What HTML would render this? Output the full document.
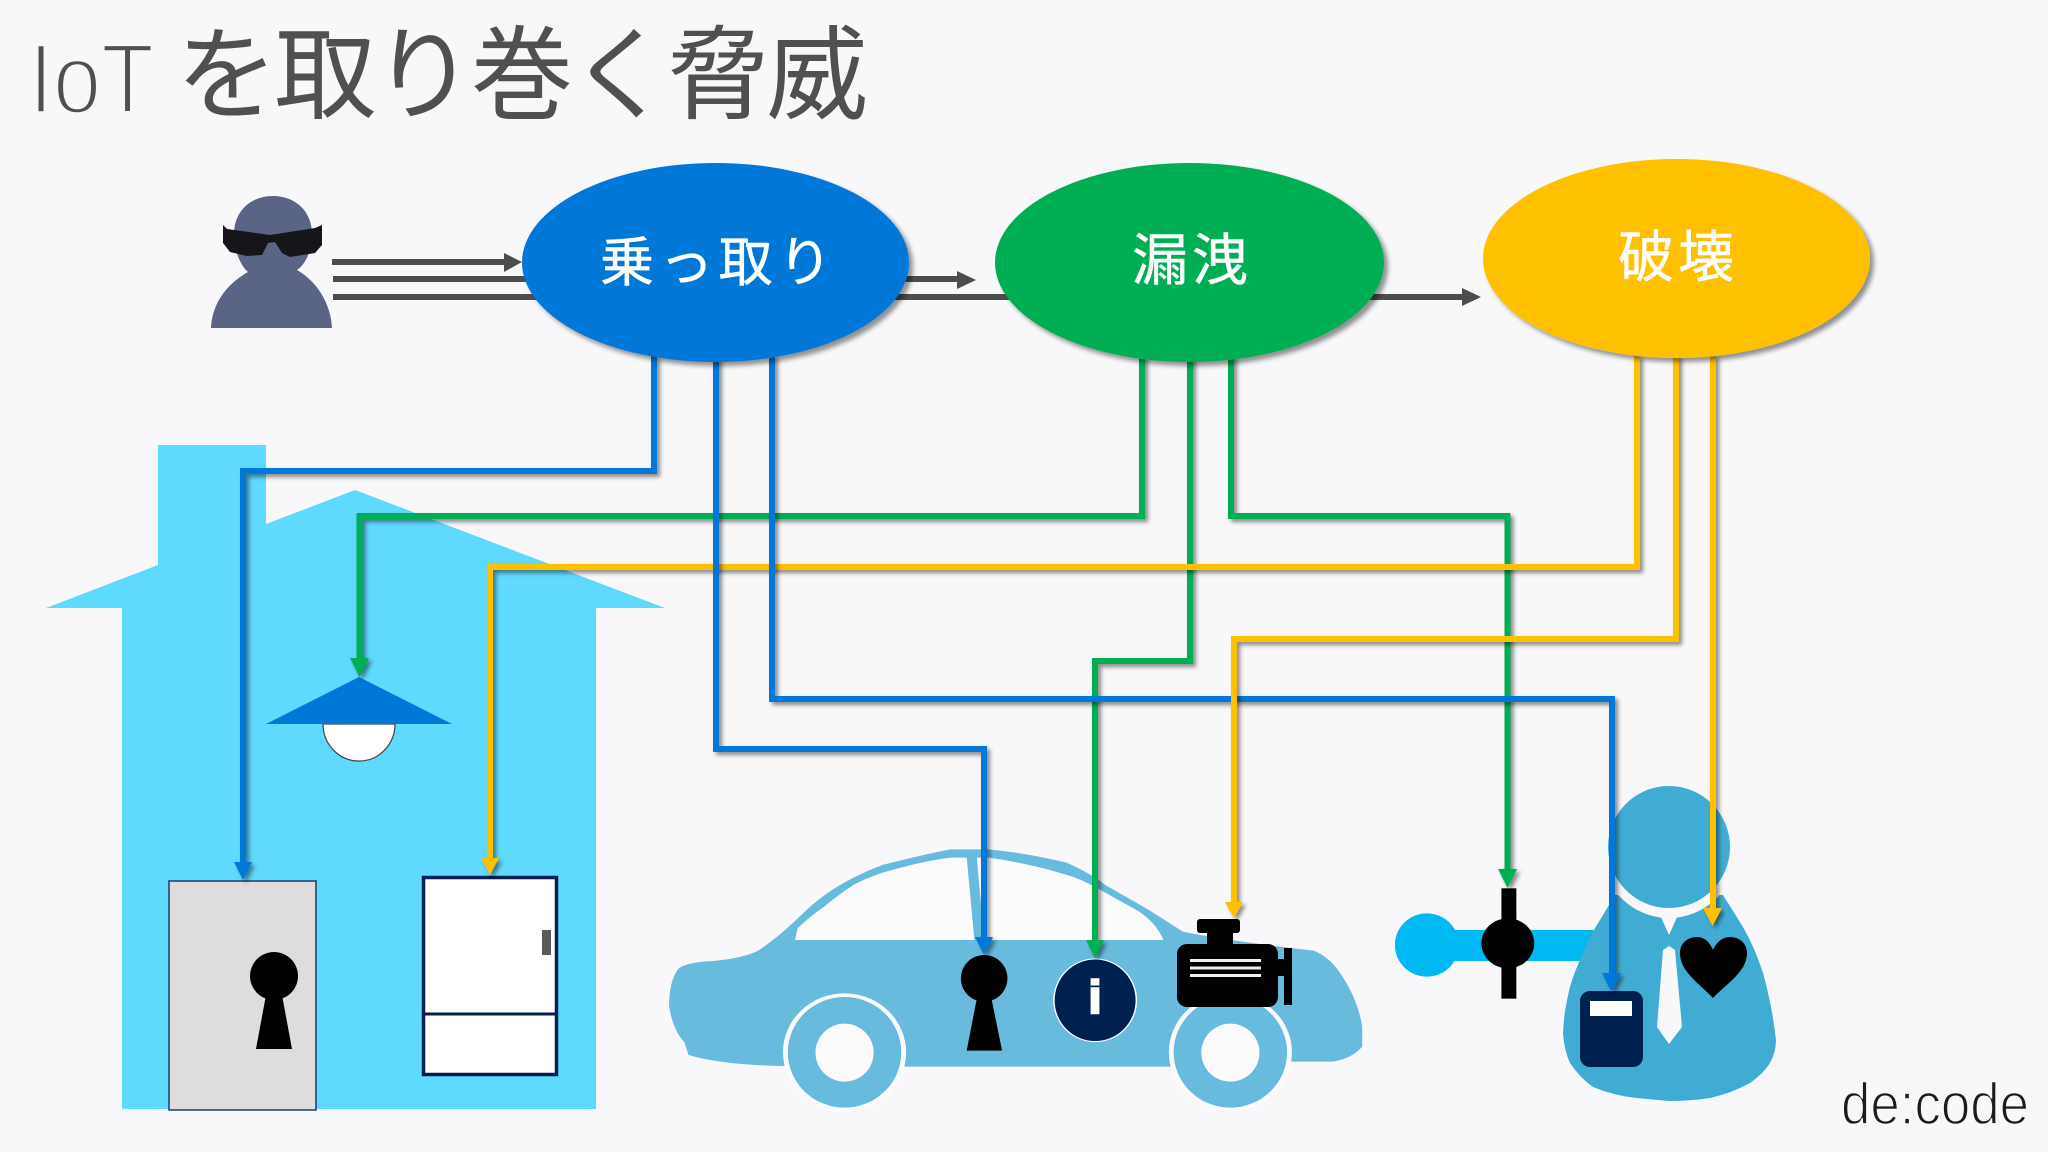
<!DOCTYPE html>
<html lang="ja">
<head>
<meta charset="utf-8">
<title>IoT を取り巻く脅威</title>
<style>
html,body{margin:0;padding:0;background:#f8f8fa;width:2048px;height:1152px;overflow:hidden}
svg{display:block}
text{font-family:"Liberation Sans","Noto Sans CJK JP",sans-serif}
.l{fill:none;stroke-width:6;stroke-linejoin:miter}
</style>
</head>
<body>
<svg width="2048" height="1152" viewBox="0 0 2048 1152" xmlns="http://www.w3.org/2000/svg">
<defs>
<filter id="s" x="-10%" y="-10%" width="125%" height="125%" filterUnits="objectBoundingBox" primitiveUnits="userSpaceOnUse">
<feDropShadow dx="3" dy="3" stdDeviation="2" flood-color="#000" flood-opacity=".45"/>
</filter>
<filter id="e" x="-5%" y="-5%" width="112%" height="115%">
<feDropShadow dx="4" dy="4" stdDeviation="2.5" flood-color="#000" flood-opacity=".42"/>
</filter>
</defs>
<rect width="2048" height="1152" fill="#f8f8fa"/>

<!-- title -->
<text x="29" y="113" font-size="99" fill="#505050" stroke="#f8f8fa" stroke-width="3.5" textLength="125" lengthAdjust="spacingAndGlyphs">IoT</text>
<text x="176" y="111" font-size="102" fill="#505050" textLength="692">を取り巻く脅威</text>

<!-- house -->
<polygon points="46,608 158,565 158,445 266,445 266,524 355,490 665,608 596,608 596,1109 122,1109 122,608" fill="#60d9ff"/>

<!-- lock box -->
<rect x="169" y="881" width="147" height="229" fill="#dedcdc" stroke="#1a3a66" stroke-width="1.5"/>
<circle cx="274" cy="976" r="24"/>
<polygon points="266,995 282,995 292,1049 256,1049"/>

<!-- fridge -->
<rect x="423.500" y="877.500" width="133" height="197" fill="#fff" stroke="#001f4f" stroke-width="3.500"/>
<line x1="423" y1="1014" x2="557" y2="1014" stroke="#001f4f" stroke-width="3"/>
<rect x="542" y="930" width="9" height="25" fill="#5a5a5a"/>

<!-- lamp -->
<path d="M323 724 A36 37 0 0 0 395 724 Z" fill="#fff" stroke="#444" stroke-width="1.200"/>
<polygon points="359,677 452,724 266,724" fill="#0078d7"/>

<!-- car -->
<g transform="translate(640 820) scale(.4847 .3333)">
<path fill="#69bbdd" d="M100 705 L92 668 Q68 630 60 560 Q60 480 80 445 Q95 430 130 425 Q200 420 240 395 Q280 360 340 275 Q400 190 500 135 Q580 105 640 88 L720 88 Q800 100 880 128 Q930 160 960 195 L1050 270 L1120 335 Q1200 360 1390 392 Q1420 410 1440 450 Q1480 530 1490 620 L1490 680 Q1470 715 1430 725 L1340 725 L1090 740 L545 740 L295 738 Q170 735 100 705 Z"/>
<path fill="#fbfbfc" d="M320 360 L325 325 Q350 290 380 260 Q400 235 440 195 Q480 165 520 150 Q590 122 640 113 L720 113 Q800 130 870 160 Q910 175 950 210 L1030 275 Q1065 310 1080 360 Z"/>
<polygon fill="#69bbdd" points="674,112 695,112 710,362 690,362"/>
<ellipse cx="422" cy="697" rx="127" ry="177" fill="#fbfbfc"/>
<ellipse cx="422" cy="697" rx="117" ry="166" fill="#69bbdd"/>
<ellipse cx="422" cy="698" rx="60" ry="87" fill="#fbfbfc"/>
<ellipse cx="1218" cy="697" rx="127" ry="177" fill="#fbfbfc"/>
<ellipse cx="1218" cy="697" rx="117" ry="166" fill="#69bbdd"/>
<ellipse cx="1218" cy="698" rx="60" ry="87" fill="#fbfbfc"/>
<ellipse cx="710" cy="475" rx="48" ry="70"/>
<polygon points="695,535 725,535 747,692 674,692"/>
<ellipse cx="939" cy="541" rx="85" ry="124" fill="#002050" stroke="#fff" stroke-width="3"/>
</g>
<text x="1095" y="1013" font-size="46" font-weight="bold" text-anchor="middle" fill="#fff" stroke="#fff" stroke-width="2.500">i</text>
<!-- engine -->
<rect x="1177" y="944" width="101" height="63" rx="10"/>
<rect x="1207" y="931" width="26" height="15"/>
<rect x="1197" y="919" width="43" height="14" rx="3"/>
<rect x="1276" y="959" width="10" height="17"/>
<rect x="1284" y="948" width="8" height="57"/>
<rect x="1190" y="959" width="71" height="3" fill="#eee"/>
<rect x="1190" y="966.500" width="71" height="3" fill="#eee"/>
<rect x="1190" y="974" width="71" height="3" fill="#eee"/>

<!-- valve -->
<g transform="translate(1380 760) scale(.4261 .3333)">
<ellipse cx="110" cy="555" rx="75" ry="95" fill="#00b9f2"/>
<rect x="110" y="510" width="420" height="93" fill="#00b9f2"/>
<ellipse cx="300" cy="550" rx="62" ry="75"/>
<rect x="285" y="385" width="35" height="331"/>
</g>

<!-- person -->
<path fill="#40acd4" d="M1615 895 L1600 920 Q1590 935 1583 953 Q1575 970 1570 987 Q1564 1010 1563 1033 Q1564 1050 1570 1063 Q1580 1078 1593 1087 Q1615 1096 1637 1098 L1669 1101 Q1690 1101 1710 1098 Q1732 1093 1750 1083 Q1763 1074 1770 1063 Q1776 1052 1776 1040 Q1772 1005 1763 973 Q1755 948 1743 927 L1723 895 Z"/>
<circle cx="1669" cy="851" r="67" fill="#f8f8fa"/>
<path fill="#f8f8fa" d="M1610 895 H1615 L1625 880 H1610 Z"/>
<circle cx="1669" cy="847" r="61" fill="#40acd4"/>
<polygon points="1660,915 1669,935 1678,915" fill="#f8f8fa"/>
<polygon points="1669,946 1675,950 1682,1027 1669,1044 1657,1027 1663,950" fill="#f8f8fa"/>
<rect x="1580" y="991" width="63" height="76" rx="10" fill="#002050"/>
<rect x="1590" y="1001" width="42" height="15" fill="#fff"/>
<path d="M1713 998 C1700 984 1680 972 1680 953 C1680 943 1688 937 1697 937 C1705 937 1710 943 1713 950 C1716 943 1722 937 1730 937 C1740 937 1747 944 1747 953 C1747 972 1726 984 1713 998 Z"/>

<!-- attacker -->
<path fill="#5a6484" d="M211 328 C212 305 225 285 248 272 C240 265 234 250 234 234 C234 212 250 196 273 196 C296 196 312 212 312 234 C312 250 306 264 297 270 C318 282 331 305 332 328 Z"/>
<path fill="#15151a" d="M223 225 L227 229 L270 235 L315 228 L322 225 L322 245 L315 253 L290 257 L282 253 L275 242 L268 243 L262 255 L247 256 L230 252 L223 243 Z"/>

<!-- gray arrows -->
<g fill="#4d4d4d">
<rect x="332" y="259" width="174" height="6"/><polygon points="504,253 522,262 504,272"/>
<rect x="333" y="276" width="626" height="6"/><polygon points="957,271 976,280 957,289"/>
<rect x="333" y="294" width="1131" height="6"/><polygon points="1462,288 1481,297 1462,306"/>
</g>

<!-- connectors -->
<g filter="url(#s)"><path class="l" stroke="#00ae52" d="M1142 355 V516 H359.500 V660"/><polygon fill="#00ae52" points="350,658 369,658 359.500,677"/></g>
<g filter="url(#s)"><path class="l" stroke="#00ae52" d="M1190 355 V661 H1095 V942"/><polygon fill="#00ae52" points="1086,940 1104,940 1095,958"/></g>
<g filter="url(#s)"><path class="l" stroke="#00ae52" d="M1231 355 V516 H1507.500 V871"/><polygon fill="#00ae52" points="1498,869 1517,869 1507.500,888"/></g>
<g filter="url(#s)"><path class="l" stroke="#ffc000" d="M1637 355 V567 H490 V860"/><polygon fill="#ffc000" points="481,858 499,858 490,875"/></g>
<g filter="url(#s)"><path class="l" stroke="#0078d7" d="M654 355 V471 H243 V864"/><polygon fill="#0078d7" points="234,862 252,862 243,880"/></g>
<g filter="url(#s)"><path class="l" stroke="#0078d7" d="M716 355 V749 H984 V939"/><polygon fill="#0078d7" points="975,937 993,937 984,955"/></g>
<g filter="url(#s)"><path class="l" stroke="#0078d7" d="M772 355 V699 H1612 V975"/><polygon fill="#0078d7" points="1602,973 1621,973 1611.500,992"/></g>
<g filter="url(#s)"><path class="l" stroke="#ffc000" d="M1676 355 V639 H1234 V904"/><polygon fill="#ffc000" points="1225,902 1243,902 1234,918"/></g>
<g filter="url(#s)"><path class="l" stroke="#ffc000" d="M1713 355 V910"/><polygon fill="#ffc000" points="1703,908 1722,908 1712.500,926"/></g>

<!-- ellipses -->
<ellipse cx="715.500" cy="262.500" rx="193.500" ry="99.500" fill="#0078d7" filter="url(#e)"/>
<ellipse cx="1189.500" cy="262.500" rx="194.500" ry="99.500" fill="#00ae52" filter="url(#e)"/>
<ellipse cx="1676.500" cy="258.500" rx="193.500" ry="99.500" fill="#ffc000" filter="url(#e)"/>
<text x="600" y="281" font-size="54" fill="#fff" stroke="#fff" stroke-width=".5" textLength="232">乗っ取り</text>
<text x="1132" y="280" font-size="56" fill="#fff" stroke="#fff" stroke-width=".5" textLength="116">漏洩</text>
<text x="1618" y="277" font-size="56" fill="#fff" stroke="#fff" stroke-width=".5" textLength="116">破壊</text>

<!-- logo -->
<text x="1841" y="1124" font-size="58" fill="#1c1c1c" stroke="#f8f8fa" stroke-width="1.600" textLength="188" lengthAdjust="spacingAndGlyphs">de:code</text>
</svg>
</body>
</html>
